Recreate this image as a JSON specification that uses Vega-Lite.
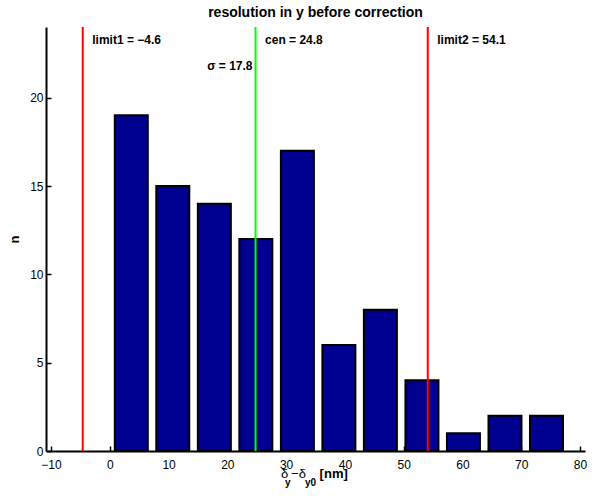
{
  "$schema": "https://vega.github.io/schema/vega-lite/v6.json",
  "width": 539,
  "height": 424,
  "autosize": {"type": "none"},
  "padding": {"left": 46, "top": 27, "right": 9, "bottom": 45},
  "background": "white",
  "config": {
    "view": {"stroke": null},
    "font": "Liberation Sans",
    "axis": {
      "domainColor": "black",
      "domainWidth": 2,
      "tickColor": "black",
      "tickWidth": 1.5,
      "tickSize": -5,
      "grid": false,
      "labelFont": "Liberation Sans",
      "labelFontSize": 12,
      "labelColor": "black"
    }
  },
  "title": {
    "text": "resolution in y before correction",
    "font": "Liberation Sans",
    "fontSize": 14,
    "fontWeight": "bold",
    "color": "black",
    "anchor": "middle",
    "frame": "group",
    "baseline": "alphabetic",
    "offset": -5
  },
  "datasets": {
    "bars": [
      {"center": 3.66, "n": 19},
      {"center": 10.72, "n": 15},
      {"center": 17.79, "n": 14},
      {"center": 24.85, "n": 12},
      {"center": 31.92, "n": 17},
      {"center": 38.98, "n": 6},
      {"center": 46.04, "n": 8},
      {"center": 53.11, "n": 4},
      {"center": 60.17, "n": 1},
      {"center": 67.24, "n": 2},
      {"center": 74.3, "n": 2}
    ],
    "lines": [
      {"value": -4.6, "kind": "limit", "label": "limit1 = −4.6"},
      {"value": 24.8, "kind": "cen", "label": "cen = 24.8"},
      {"value": 54.1, "kind": "limit", "label": "limit2 = 54.1"}
    ],
    "sigma": [
      {"value": 24.8, "label": "σ = 17.8"}
    ],
    "xtitle_greek": [
      {"x": 29.12, "part": "δ"},
      {"x": 30.85, "part": "−δ"}
    ],
    "xtitle_sub": [
      {"x": 29.83, "part": "y"},
      {"x": 33.2, "part": "y0"}
    ],
    "xtitle_unit": [
      {"x": 35.7, "part": "[nm]"}
    ]
  },
  "layer": [
    {
      "data": {"name": "bars"},
      "mark": {"type": "bar", "size": 33, "fill": "#000090", "stroke": "black", "strokeWidth": 2},
      "encoding": {
        "x": {
          "field": "center",
          "type": "quantitative",
          "scale": {"domain": [-10, 80], "nice": false, "zero": false},
          "axis": {"values": [-10, 0, 10, 20, 30, 40, 50, 60, 70, 80], "title": null, "labelPadding": 13, "labelFlush": false}
        },
        "y": {
          "field": "n",
          "type": "quantitative",
          "scale": {"domain": [0, 24], "nice": false},
          "axis": {
            "values": [0, 5, 10, 15, 20],
            "title": "n",
            "titleFont": "Liberation Sans",
            "titleFontSize": 13,
            "titleFontWeight": "bold",
            "titleColor": "black",
            "titleX": -32,
            "titleY": 212,
            "titleAngle": -90,
            "titleAlign": "center",
            "titleBaseline": "middle",
            "labelPadding": 8
          }
        }
      }
    },
    {
      "data": {"name": "lines"},
      "mark": {"type": "rule", "strokeWidth": 2},
      "encoding": {
        "x": {"field": "value", "type": "quantitative"},
        "color": {
          "field": "kind",
          "type": "nominal",
          "scale": {"domain": ["limit", "cen"], "range": ["#ff0000", "#00ff00"]},
          "legend": null
        }
      }
    },
    {
      "data": {"name": "lines"},
      "mark": {"type": "text", "align": "left", "baseline": "alphabetic", "dx": 9.5, "fontSize": 12, "fontWeight": "bold", "color": "black"},
      "encoding": {
        "x": {"field": "value", "type": "quantitative"},
        "y": {"datum": 23.03},
        "text": {"field": "label"}
      }
    },
    {
      "data": {"name": "sigma"},
      "mark": {"type": "text", "align": "right", "baseline": "alphabetic", "dx": -3, "fontSize": 12, "fontWeight": "bold", "color": "black"},
      "encoding": {
        "x": {"field": "value", "type": "quantitative"},
        "y": {"datum": 21.57},
        "text": {"field": "label"}
      }
    },
    {
      "data": {"name": "xtitle_greek"},
      "mark": {"type": "text", "align": "left", "baseline": "alphabetic", "fontSize": 13, "fontWeight": "normal", "color": "black"},
      "encoding": {
        "x": {"field": "x", "type": "quantitative"},
        "y": {"datum": -1.545},
        "text": {"field": "part"}
      }
    },
    {
      "data": {"name": "xtitle_sub"},
      "mark": {"type": "text", "align": "left", "baseline": "alphabetic", "fontSize": 10, "fontWeight": "bold", "color": "black"},
      "encoding": {
        "x": {"field": "x", "type": "quantitative"},
        "y": {"datum": -1.97},
        "text": {"field": "part"}
      }
    },
    {
      "data": {"name": "xtitle_unit"},
      "mark": {"type": "text", "align": "left", "baseline": "alphabetic", "fontSize": 13, "fontWeight": "bold", "color": "black"},
      "encoding": {
        "x": {"field": "x", "type": "quantitative"},
        "y": {"datum": -1.545},
        "text": {"field": "part"}
      }
    }
  ]
}
